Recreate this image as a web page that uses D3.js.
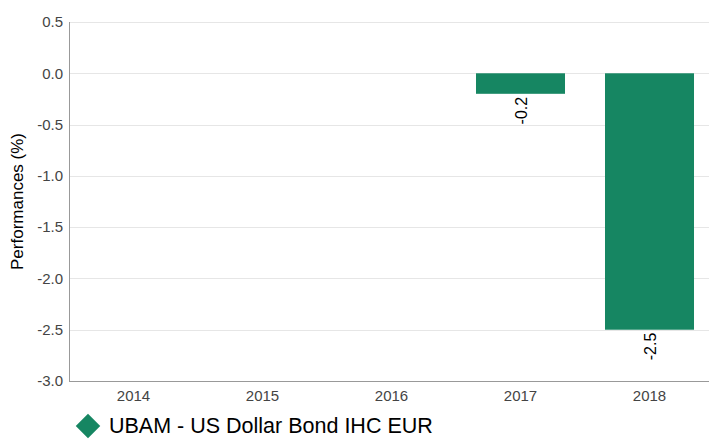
<!DOCTYPE html>
<html><head><meta charset="utf-8">
<script src="https://cdn.jsdelivr.net/npm/d3@7"></script>
<style>body{margin:0;background:#fff}svg{display:block;font-family:"Liberation Sans",Arial,sans-serif}</style>
</head><body><svg id="c" width="709" height="439"></svg>
<script>
const years = ["2014","2015","2016","2017","2018"];
const values = [null, null, null, -0.2, -2.5];
const yTicks = [0.5, 0.0, -0.5, -1.0, -1.5, -2.0, -2.5, -3.0];
const seriesName = "UBAM - US Dollar Bond IHC EUR";
const color = "#168662";

const fmt = d => d.toFixed(1);
const svg = d3.select("#c");
const m = {l:69, r:0, t:22, b:58};
const W = 709, H = 439;
const x = d3.scaleBand().domain(years).range([m.l, 714]).paddingInner(0.31).paddingOuter(0.155);
const y = d3.scaleLinear().domain([-3, 0.5]).range([H - m.b, m.t]);

// grid
svg.append("g").selectAll("line").data(yTicks).join("line")
  .attr("x1", m.l).attr("x2", W).attr("y1", d=>Math.round(y(d))+0.5).attr("y2", d=>Math.round(y(d))+0.5)
  .attr("stroke", "#e6e6e6").attr("stroke-width", 1);

// bars
const data = years.map((k,i)=>({k, v: values[i]})).filter(d=>d.v!=null);
svg.append("g").selectAll("rect").data(data).join("rect")
  .attr("x", d=>x(d.k)).attr("width", x.bandwidth())
  .attr("y", d=>y(Math.max(0,d.v))).attr("height", d=>Math.abs(y(d.v)-y(0)))
  .attr("fill", color);

// labels
svg.append("g").selectAll("text").data(data).join("text")
  .attr("transform", d=>`translate(${x(d.k)+x.bandwidth()/2+6},${y(d.v)+3}) rotate(-90)`)
  .attr("text-anchor","end").attr("font-size", 16).attr("fill","#000")
  .text(d=>fmt(d.v));

// y axis
const ya = svg.append("g").attr("transform", `translate(${m.l},0)`)
  .call(d3.axisLeft(y).tickValues(yTicks).tickFormat(fmt).tickSize(0).tickPadding(6));
ya.select(".domain").attr("stroke","#999").attr("d", `M0.5,${m.t}V${H-m.b}`);
ya.selectAll("text").attr("font-size",15).attr("fill","#444").attr("font-family","Liberation Sans, Arial, sans-serif");

// x axis
const xa = svg.append("g").attr("transform", `translate(0,${H-m.b})`)
  .call(d3.axisBottom(x).tickSize(0).tickPadding(9));
xa.select(".domain").attr("stroke","#999").attr("d", `M${m.l},0.5H${W}`);
xa.selectAll("text").attr("font-size",15).attr("fill","#444").attr("font-family","Liberation Sans, Arial, sans-serif");

// y title
svg.append("text").attr("transform", `translate(23,${(m.t + H - m.b)/2}) rotate(-90)`)
  .attr("text-anchor","middle").attr("font-size",17).attr("fill","#000").text("Performances (%)");

// legend
const lg = svg.append("g").attr("transform","translate(88,426)");
lg.append("path").attr("d", d3.symbol().type(d3.symbolSquare).size(300)).attr("fill", color)
  .attr("transform","rotate(45)");
lg.append("text").attr("x", 21).attr("y", 7).attr("font-size", 21.5).attr("fill","#000").text(seriesName);
</script></body></html>
